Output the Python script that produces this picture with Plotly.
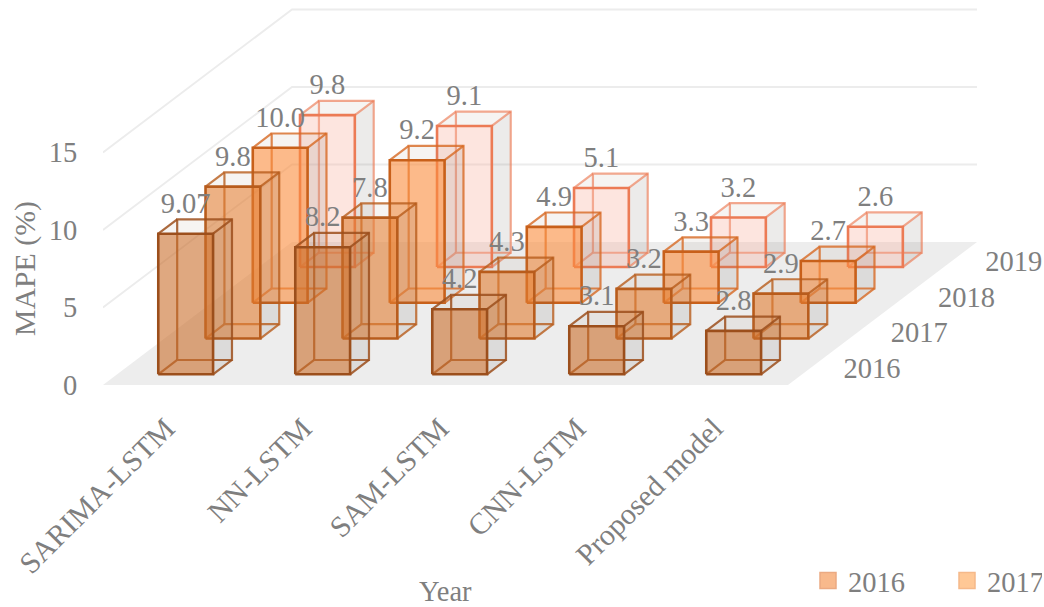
import plotly.graph_objects as go

# Chart data
categories = ["SARIMA-LSTM", "NN-LSTM", "SAM-LSTM", "CNN-LSTM", "Proposed model"]
years = ["2016", "2017", "2018", "2019"]
mape_2016 = [9.07, 8.2, 4.2, 3.1, 2.8]
mape_2017 = [9.8, 7.8, 4.3, 3.2, 2.9]
mape_2018 = [10.0, 9.2, 4.9, 3.3, 2.7]
mape_2019 = [9.8, 9.1, 5.1, 3.2, 2.6]
label_2016 = ["9.07", "8.2", "4.2", "3.1", "2.8"]
label_2017 = ["9.8", "7.8", "4.3", "3.2", "2.9"]
label_2018 = ["10.0", "9.2", "4.9", "3.3", "2.7"]
label_2019 = ["9.8", "9.1", "5.1", "3.2", "2.6"]
value_ticks = [0, 5, 10, 15]

series_values = [mape_2016, mape_2017, mape_2018, mape_2019]
series_labels = [label_2016, label_2017, label_2018, label_2019]

# Oblique projection: one depth slot shifts a point right (in category units)
# and up (in MAPE units), so both plot axes keep their own scale.
PX_PER_CATEGORY = 137.0
PX_PER_VALUE = 15.5
DEPTH_DX = 47.25 / PX_PER_CATEGORY
DEPTH_DY = 35.75 / PX_PER_VALUE

BAR_WIDTH = 0.40    # of a category slot
BAR_DEPTH = 0.40    # of a depth slot
LABEL_LIFT = 1.8    # value units between bar top and label centre
DEPTH_LABEL_GAP = 0.44
DEPTH_LABEL_DROP = 0.25
CATEGORY_TICK_SHIFT = -0.04

TEXT_COLOR = "#7f7f7f"
FONT = "Liberation Serif"
FONT_SIZE = 28.5
LARGE_FONT_SIZE = 29.8

FRONT_FILL = ["rgba(201,110,43,0.6)", "rgba(225,125,50,0.6)",
              "rgba(250,140,60,0.6)", "rgba(250,170,150,0.3)"]
EDGE = ["#9c4f1c", "#b85c1c", "#c8601a", "#ec7b55"]
INNER_EDGE = ["rgba(156,79,28,0.85)", "rgba(184,92,28,0.8)",
              "rgba(215,105,35,0.8)", "rgba(236,123,85,0.65)"]
SIDE_FILL = "rgba(100,90,80,0.12)"
TOP_FILL = "rgba(150,130,110,0.09)"
SWATCH = [("#f8b98c", "#ebaa82"), ("#ffc896", "#f5b98a")]


def project(cat, value, depth):
    return cat + depth * DEPTH_DX, value + depth * DEPTH_DY


def path(points):
    """Closed projected outline followed by a gap, ready for concatenation."""
    xs, ys = zip(*[project(*p) for p in points + points[:1]])
    return list(xs) + [None], list(ys) + [None]


def collect(paths):
    xs, ys = [], []
    for px, py in paths:
        xs += px
        ys += py
    return xs, ys


def face_trace(paths, fill, line_color=None, width=0):
    xs, ys = collect(paths)
    return go.Scatter(
        x=xs, y=ys, mode="lines", fill="toself", fillcolor=fill,
        line=dict(color=line_color or "rgba(0,0,0,0)", width=width),
        showlegend=False, hoverinfo="skip",
    )


fig = go.Figure()

# Floor and wall gridlines
n_cat, n_depth = len(categories), len(years)
fig.add_trace(face_trace(
    [path([(0, 0, 0), (n_cat, 0, 0), (n_cat, 0, n_depth), (0, 0, n_depth)])],
    "#ededed"))
for v in value_ticks[1:]:
    gx, gy = zip(*[project(*p) for p in [(0, v, 0), (0, v, n_depth), (n_cat, v, n_depth)]])
    fig.add_trace(go.Scatter(x=gx, y=gy, mode="lines",
                             line=dict(color="#ececec", width=1.8),
                             showlegend=False, hoverinfo="skip"))

# Boxes, rear series first so nearer ones paint over them
for s in reversed(range(n_depth)):
    back, top, side, front, inner = [], [], [], [], []
    for c, v in enumerate(series_values[s]):
        x0 = c + (1 - BAR_WIDTH) / 2
        x1 = x0 + BAR_WIDTH
        d0 = s + (1 - BAR_DEPTH) / 2
        d1 = d0 + BAR_DEPTH
        top.append(path([(x0, v, d0), (x1, v, d0), (x1, v, d1), (x0, v, d1)]))
        side.append(path([(x1, 0, d0), (x1, 0, d1), (x1, v, d1), (x1, v, d0)]))
        front.append(path([(x0, 0, d0), (x1, 0, d0), (x1, v, d0), (x0, v, d0)]))
        back.append(path([(x0, 0, d1), (x1, 0, d1), (x1, v, d1), (x0, v, d1)]))
        inner.append(path([(x0, 0, d0), (x0, 0, d1)]))
        inner.append(path([(x0, v, d0), (x0, v, d1)]))
        inner.append(path([(x1, 0, d0), (x1, 0, d1)]))
        inner.append(path([(x1, v, d0), (x1, v, d1)]))
    fig.add_trace(face_trace(side, SIDE_FILL))
    fig.add_trace(face_trace(top, TOP_FILL))
    ix, iy = collect(back + inner)
    fig.add_trace(go.Scatter(x=ix, y=iy, mode="lines",
                             line=dict(color=INNER_EDGE[s], width=2.2),
                             showlegend=False, hoverinfo="skip"))
    fig.add_trace(face_trace(front, FRONT_FILL[s], EDGE[s], 2.6))

# Value labels centred over each box front
for s in range(n_depth):
    points = [project(c + 0.5, v + LABEL_LIFT, s + (1 - BAR_DEPTH) / 2)
              for c, v in enumerate(series_values[s])]
    fig.add_trace(go.Scatter(
        x=[p[0] for p in points], y=[p[1] for p in points],
        mode="text", text=series_labels[s], textposition="middle center",
        textfont=dict(family=FONT, size=FONT_SIZE, color=TEXT_COLOR),
        cliponaxis=False, showlegend=False, hoverinfo="skip",
    ))

# Depth axis labels along the right floor edge
depth_points = [project(n_cat + DEPTH_LABEL_GAP, -DEPTH_LABEL_DROP, d + 0.5) for d in range(n_depth)]
fig.add_trace(go.Scatter(
    x=[p[0] for p in depth_points], y=[p[1] for p in depth_points],
    mode="text", text=years, textposition="middle center",
    textfont=dict(family=FONT, size=FONT_SIZE, color=TEXT_COLOR),
    cliponaxis=False, showlegend=False, hoverinfo="skip",
))

# Legend keys
for i, legend_id in enumerate(["legend", "legend2"]):
    fig.add_trace(go.Scatter(
        x=[None], y=[None], mode="markers", name=years[i], legend=legend_id,
        marker=dict(symbol="square", size=18, color=SWATCH[i][0],
                    line=dict(color=SWATCH[i][1], width=1.5)),
    ))

WIDTH, HEIGHT = 1044, 607
LEFT, FLOOR_Y = 103, 385
plot_w = WIDTH - LEFT
legend_font = dict(family=FONT, size=FONT_SIZE, color=TEXT_COLOR)
legend_common = dict(orientation="h", yanchor="middle", y=(FLOOR_Y - 581) / FLOOR_Y,
                     xanchor="left", font=legend_font, bgcolor="rgba(0,0,0,0)",
                     itemclick=False, itemdoubleclick=False)

fig.update_layout(
    width=WIDTH, height=HEIGHT,
    margin=dict(l=LEFT, r=0, t=0, b=HEIGHT - FLOOR_Y, autoexpand=False),
    paper_bgcolor="white", plot_bgcolor="white",
    font=dict(family=FONT, size=FONT_SIZE, color=TEXT_COLOR),
    xaxis=dict(
        range=[0, plot_w / PX_PER_CATEGORY], showgrid=False, zeroline=False, showline=False,
        tickmode="array", tickvals=[i + 0.5 + CATEGORY_TICK_SHIFT for i in range(n_cat)],
        ticktext=categories, tickangle=-45, ticks="outside", ticklen=13,
        tickcolor="rgba(0,0,0,0)",
        tickfont=dict(family=FONT, size=LARGE_FONT_SIZE, color=TEXT_COLOR),
    ),
    yaxis=dict(
        range=[0, FLOOR_Y / PX_PER_VALUE], showgrid=False, zeroline=False, showline=False,
        tickmode="array", tickvals=value_ticks, ticks="outside", ticklen=19,
        tickcolor="rgba(0,0,0,0)",
        tickfont=dict(family=FONT, size=FONT_SIZE, color=TEXT_COLOR),
    ),
    legend=dict(x=(808 - LEFT) / plot_w, **legend_common),
    legend2=dict(x=(947 - LEFT) / plot_w, entrywidth=50, entrywidthmode="pixels", **legend_common),
    annotations=[
        dict(text="MAPE (%)", x=(25 - LEFT) / plot_w, y=(FLOOR_Y - 269) / FLOOR_Y,
             xref="paper", yref="paper", xanchor="center", yanchor="middle",
             showarrow=False, textangle=-90,
             font=dict(family=FONT, size=LARGE_FONT_SIZE, color=TEXT_COLOR)),
        dict(text="Year", x=n_cat / 2, y=(FLOOR_Y - 591) / FLOOR_Y,
             xref="x", yref="paper", xanchor="center", yanchor="middle",
             showarrow=False, font=legend_font),
    ],
)

fig.write_html("out.html", config=dict(displayModeBar=False))
